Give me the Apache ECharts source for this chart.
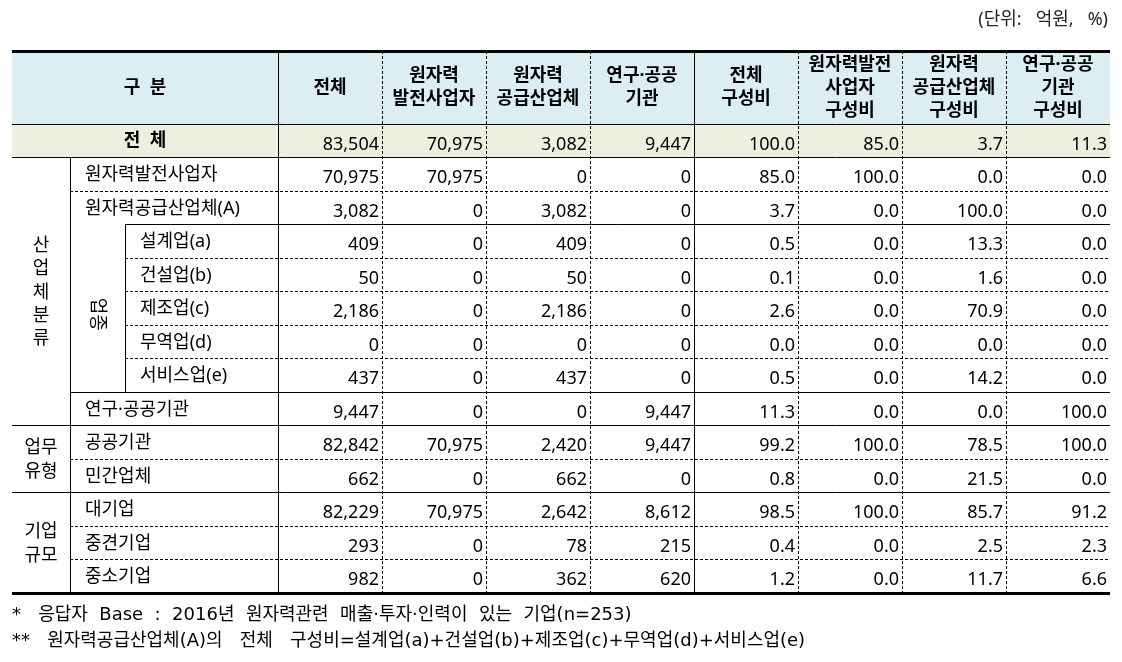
<!DOCTYPE html>
<html>
<head>
<meta charset="utf-8">
<script src="https://cdn.jsdelivr.net/npm/echarts@6/dist/echarts.min.js"></script>
<style>
  html, body { margin: 0; padding: 0; background: #fff; }
  #main { width: 1122px; height: 662px; }
</style>
</head>
<body>
<div id="main"></div>
<script>
  // 표 데이터 (단위: 억원, %) - 첫 번째 값은 '전 체' 행
  const rowNames = ['전  체', '원자력발전사업자', '원자력공급산업체(A)', '설계업(a)', '건설업(b)', '제조업(c)', '무역업(d)',
    '서비스업(e)', '연구·공공기관', '공공기관', '민간업체', '대기업', '중견기업', '중소기업'];
  const columnNames = ['전체', '원자력\n발전사업자', '원자력\n공급산업체', '연구·공공\n기관', '전체\n구성비',
    '원자력발전\n사업자\n구성비', '원자력\n공급산업체\n구성비', '연구·공공\n기관\n구성비'];

  const amountAll = [83504, 70975, 3082, 409, 50, 2186, 0, 437, 9447, 82842, 662, 82229, 293, 982];
  const amountPower = [70975, 70975, 0, 0, 0, 0, 0, 0, 0, 70975, 0, 70975, 0, 0];
  const amountSupply = [3082, 0, 3082, 409, 50, 2186, 0, 437, 0, 2420, 662, 2642, 78, 362];
  const amountResearch = [9447, 0, 0, 0, 0, 0, 0, 0, 9447, 9447, 0, 8612, 215, 620];
  const shareAll = [100.0, 85.0, 3.7, 0.5, 0.1, 2.6, 0.0, 0.5, 11.3, 99.2, 0.8, 98.5, 0.4, 1.2];
  const sharePower = [85.0, 100.0, 0.0, 0.0, 0.0, 0.0, 0.0, 0.0, 0.0, 100.0, 0.0, 100.0, 0.0, 0.0];
  const shareSupply = [3.7, 0.0, 100.0, 13.3, 1.6, 70.9, 0.0, 14.2, 0.0, 78.5, 21.5, 85.7, 2.5, 11.7];
  const shareResearch = [11.3, 0.0, 0.0, 0.0, 0.0, 0.0, 0.0, 0.0, 100.0, 100.0, 0.0, 91.2, 2.3, 6.6];

  const groupNames = ['산\n업\n체\n분\n류', '업무\n유형', '기업\n규모'];
  const groupSizes = [8, 2, 3];
  const subGroupName = '업종';
  const subGroupRows = [3, 7];

  const unitText = '(단위:   억원,   %)';
  const notes = [
    '*   응답자  Base  :  2016년  원자력관련  매출·투자·인력이  있는  기업(n=253)',
    '**   원자력공급산업체(A)의   전체   구성비=설계업(a)+건설업(b)+제조업(c)+무역업(d)+서비스업(e)'
  ];

  // 레이아웃 (x축: 표 폭 단위, y축: 행 단위)
  const TABLE_W = 1098;
  const HEAD = 2.18;
  const GROUP_X = 58, SUB_X = 113, LABEL_W = 266, COL_W = 104;
  const HEAD_BG = '#DAEEF3', TOTAL_BG = '#EBF1DE';
  const FONT = "'Noto Sans', 'Noto Sans CJK KR', sans-serif";
  const NOTE_FONT = "'DejaVu Sans', 'Noto Sans CJK KR', sans-serif";
  const SIZE = 18;

  const valueColumns = [amountAll, amountPower, amountSupply, amountResearch, shareAll, sharePower, shareSupply, shareResearch];
  const isShare = [false, false, false, false, true, true, true, true];

  // 셀 목록
  const cells = [];
  cells.push({ x0: 0, x1: LABEL_W, y0: -HEAD, y1: 0, text: '구  분', kind: 'head' });
  columnNames.forEach(function (name, i) {
    cells.push({ x0: LABEL_W + i * COL_W, x1: LABEL_W + (i + 1) * COL_W, y0: -HEAD, y1: 0, text: name, kind: 'head' });
  });
  rowNames.forEach(function (name, r) {
    const total = r === 0;
    const inSub = r >= subGroupRows[0] && r <= subGroupRows[1];
    cells.push({ x0: total ? 0 : (inSub ? SUB_X : GROUP_X), x1: LABEL_W, y0: r, y1: r + 1, text: name, kind: total ? 'totalLabel' : 'label' });
    valueColumns.forEach(function (col, i) {
      cells.push({
        x0: LABEL_W + i * COL_W, x1: LABEL_W + (i + 1) * COL_W, y0: r, y1: r + 1,
        text: isShare[i] ? col[r].toFixed(1) : col[r].toLocaleString('en-US'),
        kind: total ? 'totalNum' : 'num'
      });
    });
  });
  let start = 1;
  groupNames.forEach(function (g, i) {
    cells.push({ x0: 0, x1: GROUP_X, y0: start, y1: start + groupSizes[i], text: g, kind: 'group' });
    start += groupSizes[i];
  });
  cells.push({ x0: GROUP_X, x1: SUB_X, y0: subGroupRows[0], y1: subGroupRows[1] + 1, text: subGroupName, kind: 'vertical' });

  // 선 목록
  const lastRow = rowNames.length;
  const lines = [];
  function hLine(y, x0, width, dash) { lines.push({ x0: x0, y0: y, x1: TABLE_W, y1: y, width: width, dash: dash }); }
  function vLine(x, y0, y1, dash) { lines.push({ x0: x, y0: y0, x1: x, y1: y1, width: 1, dash: dash }); }
  hLine(-HEAD, 0, 3); hLine(0, 0, 1); hLine(1, 0, 1);
  hLine(2, GROUP_X, 1, true); hLine(3, SUB_X, 1);
  for (let r = 4; r <= 7; r++) hLine(r, SUB_X, 1, true);
  hLine(8, GROUP_X, 1); hLine(9, 0, 1); hLine(10, GROUP_X, 1, true); hLine(11, 0, 1);
  hLine(12, GROUP_X, 1, true); hLine(13, GROUP_X, 1, true); hLine(lastRow, 0, 3);
  vLine(GROUP_X, 1, lastRow); vLine(SUB_X, subGroupRows[0], subGroupRows[1] + 1);
  vLine(LABEL_W, -HEAD, lastRow);
  for (let i = 1; i < valueColumns.length; i++) vLine(LABEL_W + i * COL_W, -HEAD, lastRow, i !== 4);

  function renderCell(params, api) {
    const c = cells[params.dataIndex];
    const a = api.coord([c.x0, c.y0]);
    const b = api.coord([c.x1, c.y1]);
    const w = b[0] - a[0], h = b[1] - a[1];
    const cx = a[0] + w / 2, cy = a[1] + h / 2;
    const fill = c.kind === 'head' ? HEAD_BG : (c.kind.indexOf('total') === 0 ? TOTAL_BG : null);
    const bold = c.kind === 'head' || c.kind === 'totalLabel';
    const text = {
      type: 'text', x: cx, y: cy,
      style: {
        text: c.text, fontFamily: FONT, fontSize: SIZE, fontWeight: bold ? 'bold' : 'normal',
        fill: '#000', lineHeight: 23, align: 'center', verticalAlign: 'middle'
      }
    };
    if (c.kind === 'num' || c.kind === 'totalNum') {
      text.x = b[0] - 3; text.y = cy + 4; text.style.align = 'right';
    } else if (c.kind === 'label') {
      text.x = a[0] + 15; text.y = cy + 1; text.style.align = 'left';
    } else if (c.kind === 'vertical') {
      text.y = cy + 6; text.rotation = -Math.PI / 2;
    } else if (c.kind === 'group') {
      text.y = cy + 1; text.style.lineHeight = 23.3;
    }
    const children = [];
    if (fill) children.push({ type: 'rect', shape: { x: a[0], y: a[1], width: w, height: h }, style: { fill: fill } });
    children.push(text);
    return { type: 'group', children: children };
  }

  function renderLine(params, api) {
    const l = lines[params.dataIndex];
    const p = api.coord([l.x0, l.y0]);
    const q = api.coord([l.x1, l.y1]);
    const snap = function (v) { return l.width % 2 ? Math.round(v - 0.5) + 0.5 : Math.round(v); };
    if (l.y0 === l.y1) { p[1] = q[1] = snap(p[1]); } else { p[0] = q[0] = snap(p[0]); }
    return {
      type: 'line',
      shape: { x1: p[0], y1: p[1], x2: q[0], y2: q[1] },
      style: { stroke: '#000', lineWidth: l.width, lineDash: l.dash ? [3, 2] : null }
    };
  }

  const chart = echarts.init(document.getElementById('main'));
  chart.setOption({
    animation: false,
    title: {
      text: unitText, right: 14, top: 11, padding: 0,
      textStyle: { fontFamily: FONT, fontSize: 18, fontWeight: 'normal', color: '#222' }
    },
    grid: { left: 12, right: 12, top: 51, bottom: 69 },
    xAxis: { type: 'value', min: 0, max: TABLE_W, show: false },
    yAxis: { type: 'value', min: -HEAD, max: lastRow, inverse: true, show: false },
    series: [{
      type: 'custom', z: 1, clip: false, silent: true,
      renderItem: renderCell,
      encode: { x: [0, 1], y: [2, 3] },
      data: cells.map(function (c) { return [c.x0, c.x1, c.y0, c.y1]; })
    }, {
      type: 'custom', z: 2, clip: false, silent: true,
      renderItem: renderLine,
      encode: { x: [0, 2], y: [1, 3] },
      data: lines.map(function (l) { return [l.x0, l.y0, l.x1, l.y1]; })
    }],
    graphic: notes.map(function (t, i) {
      return {
        type: 'text', left: 12, top: 606 + i * 26,
        style: { text: t, fontFamily: NOTE_FONT, fontSize: 18, fill: '#000' }
      };
    })
  });
</script>
</body>
</html>
